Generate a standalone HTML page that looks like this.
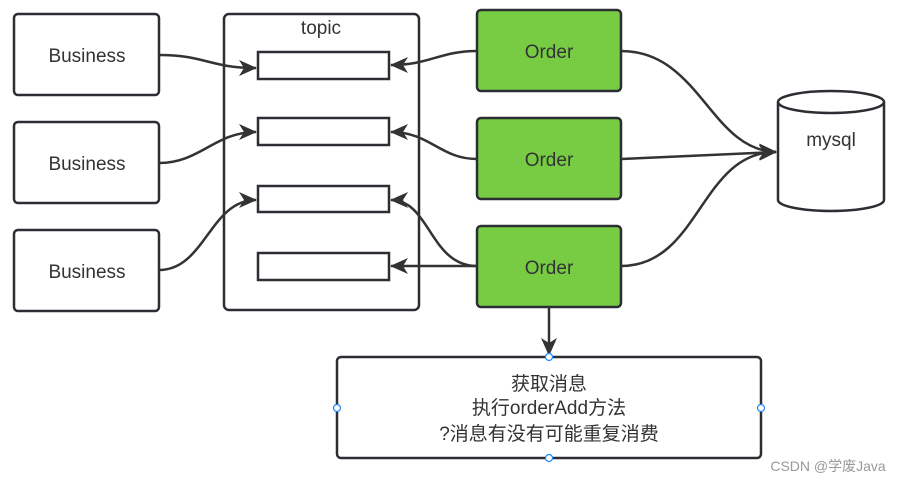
<!DOCTYPE html>
<html><head><style>body{margin:0;background:#fff}svg{display:block}</style></head><body>
<svg width="904" height="483" xmlns="http://www.w3.org/2000/svg" font-family="Liberation Sans, Noto Sans CJK SC, sans-serif">
<defs><marker id="a" markerWidth="10" markerHeight="10" refX="9" refY="5" orient="auto" markerUnits="userSpaceOnUse" viewBox="0 0 10 10"><path d="M0,0 L10,5 L0,10 L3,5Z" fill="#333"/></marker>
<marker id="b" markerWidth="18" markerHeight="16" refX="17" refY="8" orient="auto" markerUnits="userSpaceOnUse"><path d="M0,0 L18,8 L0,16 L5,8Z" fill="#333"/></marker></defs>
<g fill="#fff" stroke="#2b2f33" stroke-width="2.5">
<rect x="14" y="14" width="145" height="81" rx="4"/>
<rect x="14" y="122" width="145" height="81" rx="4"/>
<rect x="14" y="230" width="145" height="81" rx="4"/>
<rect x="224" y="14" width="195" height="296" rx="5"/>
<rect x="258" y="52" width="131" height="27"/>
<rect x="258" y="118" width="131" height="27"/>
<rect x="258" y="186" width="131" height="26"/>
<rect x="258" y="253" width="131" height="27"/>
<rect x="477" y="10" width="144" height="81" rx="4" fill="#77cc44"/>
<rect x="477" y="118" width="144" height="81" rx="4" fill="#77cc44"/>
<rect x="477" y="226" width="144" height="81" rx="4" fill="#77cc44"/>
<path d="M778,102 L778,200 A53,11 0 0 0 884,200 L884,102"/>
<ellipse cx="831" cy="102" rx="53" ry="11"/>
<rect x="337" y="357" width="424" height="101" rx="4"/>
</g>
<g fill="none" stroke="#333" stroke-width="2.5">
<path d="M159,55 C205,55 210,68 256,68" marker-end="url(#b)"/>
<path d="M159,163 C200,163 215,132 256,132" marker-end="url(#b)"/>
<path d="M159,270 C205,270 210,200 256,200" marker-end="url(#b)"/>
<path d="M477,51 C440,51 430,65 391,65" marker-end="url(#b)"/>
<path d="M477,159 C440,159 430,132 391,132" marker-end="url(#b)"/>
<path d="M477,266 C430,266 430,200 391,200" marker-end="url(#b)"/>
<path d="M477,266 L391,266" marker-end="url(#b)"/>
<path d="M621,51 C700,51 710,150 776,152" marker-end="url(#b)"/>
<path d="M621,159 L776,152" marker-end="url(#b)"/>
<path d="M621,266 C700,266 700,152 776,152" marker-end="url(#b)"/>
<path d="M549,307 L549,355" marker-end="url(#b)"/>
</g>
<g fill="#fff" stroke="#1e88ff" stroke-width="1.2">
<circle cx="549" cy="357" r="3.5"/><circle cx="549" cy="458" r="3.5"/><circle cx="337" cy="408" r="3.5"/><circle cx="761" cy="408" r="3.5"/></g>
<g fill="#333" font-size="19" text-anchor="middle">
<text x="87" y="62">Business</text><text x="87" y="170">Business</text><text x="87" y="278">Business</text>
<text x="321" y="34">topic</text>
<text x="549" y="58">Order</text><text x="549" y="166">Order</text><text x="549" y="274">Order</text>
<text x="831" y="146">mysql</text>
<text x="549" y="390">获取消息</text><text x="549" y="414">执行orderAdd方法</text><text x="549" y="440">?消息有没有可能重复消费</text>
</g>
<text x="828" y="471" font-size="14" fill="#999" text-anchor="middle">CSDN @学废Java</text>
</svg></body></html>
